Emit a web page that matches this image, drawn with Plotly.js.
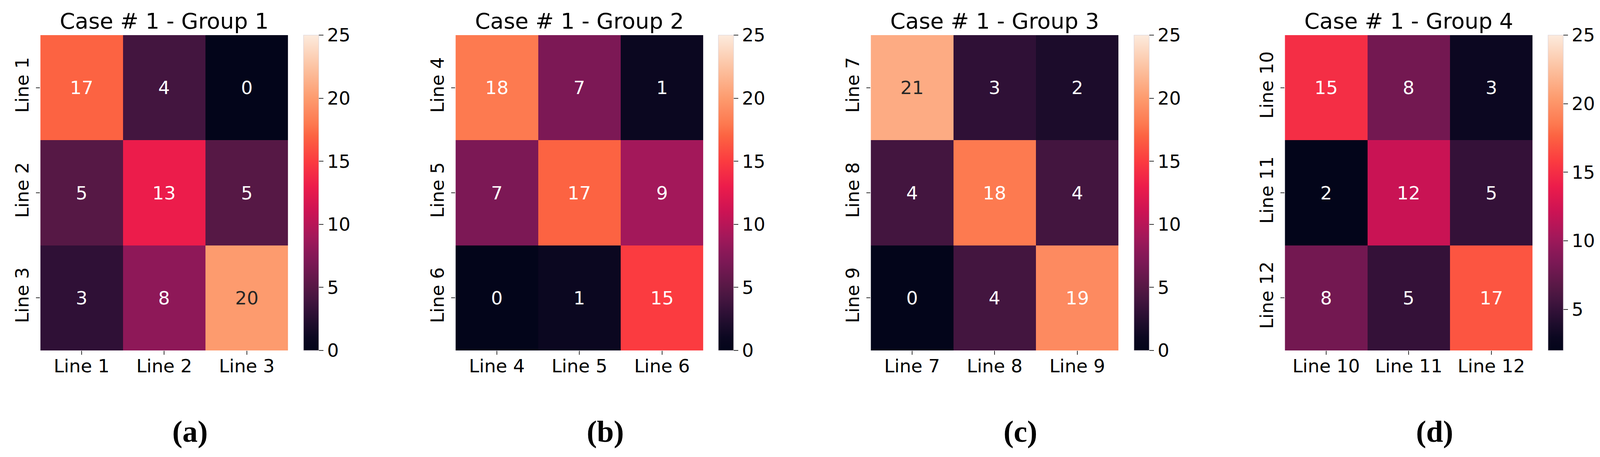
<!DOCTYPE html>
<html>
<head>
<meta charset="utf-8">
<script src="https://cdn.plot.ly/plotly-3.0.1.min.js"></script>
<style>html,body{margin:0;padding:0;background:#fff;overflow:hidden;}</style>
</head>
<body>
<div id="chart"></div>
<script>
// ---- data ----
const titles = ['Case # 1 - Group 1', 'Case # 1 - Group 2', 'Case # 1 - Group 3', 'Case # 1 - Group 4'];
const panelLabels = ['(a)', '(b)', '(c)', '(d)'];
const labelsA = ['Line 1', 'Line 2', 'Line 3'];
const labelsB = ['Line 4', 'Line 5', 'Line 6'];
const labelsC = ['Line 7', 'Line 8', 'Line 9'];
const labelsD = ['Line 10', 'Line 11', 'Line 12'];
const zA = [[17, 4, 0], [5, 13, 5], [3, 8, 20]];
const zB = [[18, 7, 1], [7, 17, 9], [0, 1, 15]];
const zC = [[21, 3, 2], [4, 18, 4], [0, 4, 19]];
const zD = [[15, 8, 3], [2, 12, 5], [8, 5, 17]];
const zMins = [0, 0, 0, 2];
const zMaxs = [25, 25, 25, 25];
const cbTicksA = [0, 5, 10, 15, 20, 25];
const cbTicksD = [5, 10, 15, 20, 25];

// ---- styling ----
const REF_W = 4204, H = 1171;
const W = Math.min(REF_W, window.innerWidth || REF_W);
const sx = W / REF_W;
document.getElementById('chart').style.width = W + 'px';
document.getElementById('chart').style.height = H + 'px';
const heatLeft = [106, 1197, 2288, 3376];
const heatW = 651;
const cbLeft = [798, 1888, 2980, 4067];
const cbW = 40;
const topPx = 90, botPx = 898;
const rocket = [
  [0.00, '#03051a'], [0.04, '#0b0720'], [0.08, '#1c0c2b'], [0.12, '#2f1036'],
  [0.16, '#43153f'], [0.20, '#561845'], [0.28, '#7c1855'], [0.32, '#8e1858'],
  [0.36, '#a3185a'], [0.44, '#cc1354'], [0.52, '#ec1c4b'], [0.60, '#fb3b40'],
  [0.68, '#fc6342'], [0.72, '#fd7a50'], [0.76, '#fd8a60'], [0.80, '#fd9b6e'],
  [0.90, '#fcc3a3'], [1.00, '#fcebdd']
];
function hex2rgb(h){return [parseInt(h.substr(1,2),16),parseInt(h.substr(3,2),16),parseInt(h.substr(5,2),16)];}
function colorAt(t){
  for(let i=1;i<rocket.length;i++){
    if(t<=rocket[i][0]){
      const a=rocket[i-1],b=rocket[i];const f=(t-a[0])/(b[0]-a[0]);
      const ca=hex2rgb(a[1]),cb=hex2rgb(b[1]);
      return ca.map((v,k)=>v+(cb[k]-v)*f);
    }
  }
  return hex2rgb(rocket[rocket.length-1][1]);
}
function lum(rgb){
  const l=rgb.map(v=>{v/=255;return v<=0.03928?v/12.92:Math.pow((v+0.055)/1.055,2.4);});
  return 0.2126*l[0]+0.7152*l[1]+0.0722*l[2];
}

const labelSets = [labelsA, labelsB, labelsC, labelsD];
const zs = [zA, zB, zC, zD];
const yTop = 1 - topPx / H, yBot = 1 - botPx / H;
const data = [], annotations = [];
const layout = {
  width: W, height: H, margin: {l: 0, r: 0, t: 0, b: 0},
  paper_bgcolor: '#ffffff', plot_bgcolor: '#ffffff',
  font: {family: 'DejaVu Sans', color: '#000000'},
  showlegend: false
};
const tickFont = {family: 'DejaVu Sans', size: 47, color: '#000000'};

for (let p = 0; p < 4; p++) {
  const sfx = p === 0 ? '' : String(p + 1);
  const labels = labelSets[p];
  data.push({
    type: 'heatmap',
    z: zs[p], x: labels, y: labels,
    xaxis: 'x' + sfx, yaxis: 'y' + sfx,
    zmin: zMins[p], zmax: zMaxs[p],
    colorscale: rocket, hoverinfo: 'skip',
    colorbar: {
      x: cbLeft[p] * sx / W, xanchor: 'left', xref: 'paper',
      y: yTop, yanchor: 'top', yref: 'paper',
      len: botPx - topPx, lenmode: 'pixels',
      thickness: Math.round(cbW * sx), thicknessmode: 'pixels',
      xpad: 0, ypad: 0, borderwidth: 0,
      outlinewidth: 1, outlinecolor: '#d8d0d8',
      tickvals: p === 3 ? cbTicksD : cbTicksA,
      ticks: 'outside', ticklen: 12, tickwidth: 2, tickcolor: '#333333',
      tickfont: tickFont
    }
  });
  const d0 = heatLeft[p] * sx / W, d1 = (heatLeft[p] + heatW) * sx / W;
  layout['xaxis' + sfx] = {
    domain: [d0, d1], anchor: 'y' + sfx, type: 'category',
    showgrid: false, zeroline: false, showline: false,
    ticks: 'outside', ticklen: 10, tickwidth: 2, tickcolor: '#333333',
    ticklabelstandoff: -11,
    tickfont: tickFont, fixedrange: true
  };
  layout['yaxis' + sfx] = {
    domain: [yBot, yTop], anchor: 'x' + sfx, type: 'category', autorange: 'reversed',
    showgrid: false, zeroline: false, showline: false,
    ticks: 'outside', ticklen: 10, tickwidth: 2, tickcolor: '#333333',
    tickfont: tickFont, tickangle: -90, fixedrange: true
  };
  for (let r = 0; r < 3; r++) {
    for (let c = 0; c < 3; c++) {
      const v = zs[p][r][c];
      const t = (v - zMins[p]) / (zMaxs[p] - zMins[p]);
      const dark = lum(colorAt(Math.max(0, Math.min(1, t)))) > 0.408;
      annotations.push({
        x: labels[c], y: labels[r], xref: 'x' + sfx, yref: 'y' + sfx,
        text: String(v), showarrow: false,
        font: {family: 'DejaVu Sans', size: 47, color: dark ? '#262626' : '#ffffff'}
      });
    }
  }
  const cxPx = (heatLeft[p] + heatW / 2) * sx;
  annotations.push({
    x: cxPx / W, y: 1 - 53 / H, xref: 'paper', yref: 'paper', xanchor: 'center', yanchor: 'middle',
    text: titles[p], showarrow: false,
    font: {family: 'DejaVu Sans', size: 56, color: '#000000'}
  });
  annotations.push({
    x: (cxPx + 68 * sx) / W, y: 1 - 1105 / H, xref: 'paper', yref: 'paper',
    xanchor: 'center', yanchor: 'middle',
    text: '<b>' + panelLabels[p] + '</b>', showarrow: false,
    font: {family: 'Liberation Serif', size: 78, color: '#000000'}
  });
}
layout.annotations = annotations;
Plotly.newPlot('chart', data, layout, {staticPlot: true, displayModeBar: false});
</script>
</body>
</html>
